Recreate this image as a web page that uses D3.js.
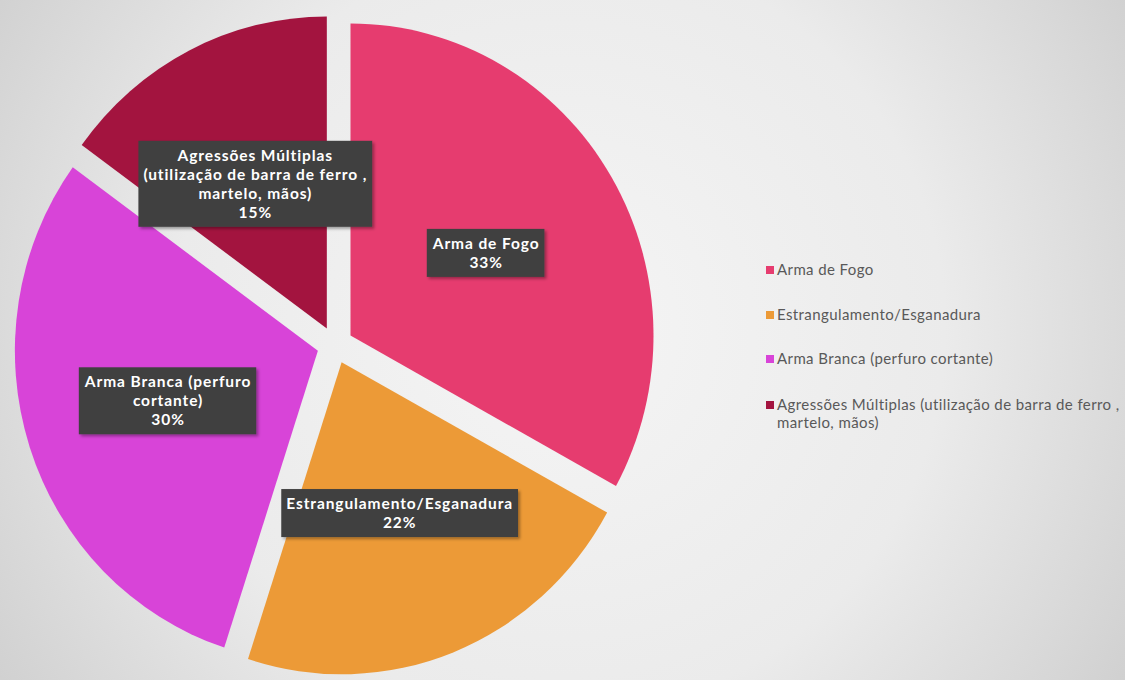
<!DOCTYPE html>
<html>
<head>
<meta charset="utf-8">
<script src="https://cdn.jsdelivr.net/npm/d3@7"></script>
<style>
  html, body { margin: 0; padding: 0; }
  body { width: 1125px; height: 680px; overflow: hidden; }
  svg { display: block; }
</style>
</head>
<body>
<svg width="1125" height="680"></svg>
<script>
// data
var categories = ["Arma de Fogo", "Estrangulamento/Esganadura", "Arma Branca (perfuro cortante)",
                  "Agressões Múltiplas (utilização de barra de ferro , martelo, mãos)"];
var values = [33, 22, 30, 15];
// label text as wrapped in the slices
var sliceLabels = [
  ["Arma de Fogo", "33%"],
  ["Estrangulamento/Esganadura", "22%"],
  ["Arma Branca (perfuro", "cortante)", "30%"],
  ["Agressões Múltiplas", "(utilização de barra de ferro ,", "martelo, mãos)", "15%"]
];
var legendLines = [
  ["Arma de Fogo"],
  ["Estrangulamento/Esganadura"],
  ["Arma Branca (perfuro cortante)"],
  ["Agressões Múltiplas (utilização de barra de ferro ,", "martelo, mãos)"]
];
var colors = ["#e63c6f", "#ec9a37", "#d844d8", "#a3143f"];

var svg = d3.select("svg");
var W = 1125, H = 680;

// background
var defs = svg.append("defs");
var grad = defs.append("radialGradient").attr("id", "bg")
  .attr("gradientUnits", "userSpaceOnUse")
  .attr("cx", 560).attr("cy", 330).attr("r", 700);
grad.append("stop").attr("offset", "0%").attr("stop-color", "#f5f5f5");
grad.append("stop").attr("offset", "55%").attr("stop-color", "#ebebeb");
grad.append("stop").attr("offset", "100%").attr("stop-color", "#cdcdcd");
svg.append("rect").attr("width", W).attr("height", H).attr("fill", "url(#bg)");

var shadow = defs.append("filter").attr("id", "shadow")
  .attr("x", "-10%").attr("y", "-10%").attr("width", "130%").attr("height", "140%");
shadow.append("feDropShadow").attr("dx", 2).attr("dy", 2).attr("stdDeviation", 1.5)
  .attr("flood-color", "#000").attr("flood-opacity", 0.35);

// pie geometry
var cx = 335, cy = 345, R = 303, ky = 1.03, explode = 18;

var pie = d3.pie().sort(null).value(function (d) { return d; });
var arcs = pie(values);
var arc = d3.arc().innerRadius(0).outerRadius(R);
var labelArc = d3.arc().innerRadius(0.52 * R).outerRadius(0.52 * R);

function sliceOffset(d) {
  var mid = (d.startAngle + d.endAngle) / 2;
  return [cx + explode * Math.sin(mid), cy - explode * Math.cos(mid) * ky];
}

var slices = svg.append("g").selectAll("g.slice")
  .data(arcs)
  .enter()
  .append("g")
  .attr("class", "slice")
  .attr("transform", function (d) {
    var o = sliceOffset(d);
    return "translate(" + o[0] + "," + o[1] + ") scale(1," + ky + ")";
  });

slices.append("path")
  .attr("d", arc)
  .attr("fill", function (d, i) { return colors[i]; });

// data labels
var font = "Lato, 'Open Sans', sans-serif";
var lineH = 19;
var labels = svg.append("g").selectAll("g.label")
  .data(arcs)
  .enter()
  .append("g")
  .attr("class", "label")
  .attr("transform", function (d) {
    var o = sliceOffset(d), c = labelArc.centroid(d);
    return "translate(" + (o[0] + c[0]) + "," + (o[1] + c[1] * ky) + ")";
  });

labels.each(function (d, i) {
  var g = d3.select(this);
  var lines = sliceLabels[i];
  var box = g.append("rect").attr("fill", "#404040").attr("filter", "url(#shadow)");
  var t = g.append("text")
    .attr("text-anchor", "middle")
    .style("font-family", font)
    .style("font-weight", "bold")
    .style("font-size", "15.5px")
    .style("letter-spacing", "0.9px")
    .attr("fill", "#ffffff");
  lines.forEach(function (s, j) {
    t.append("tspan")
      .attr("x", 0)
      .attr("y", (j - (lines.length - 1) / 2) * lineH)
      .attr("dy", "0.35em")
      .text(s);
  });
  var bb = t.node().getBBox();
  box.attr("x", bb.x - 5).attr("y", bb.y - 5)
     .attr("width", bb.width + 10).attr("height", bb.height + 11);
});

// legend
var legend = svg.append("g").attr("transform", "translate(766,0)");
var legendY = [270, 315, 359, 405];
legendLines.forEach(function (lines, i) {
  var item = legend.append("g").attr("transform", "translate(0," + legendY[i] + ")");
  item.append("rect")
    .attr("x", 0).attr("y", -4).attr("width", 8).attr("height", 8)
    .attr("fill", colors[i]);
  var t = item.append("text")
    .style("font-family", font)
    .style("font-size", "15px")
    .style("letter-spacing", "0.4px")
    .attr("fill", "#595959");
  lines.forEach(function (s, j) {
    t.append("tspan").attr("x", 11).attr("y", j * 18).attr("dy", "0.35em").text(s);
  });
});
</script>
</body>
</html>
